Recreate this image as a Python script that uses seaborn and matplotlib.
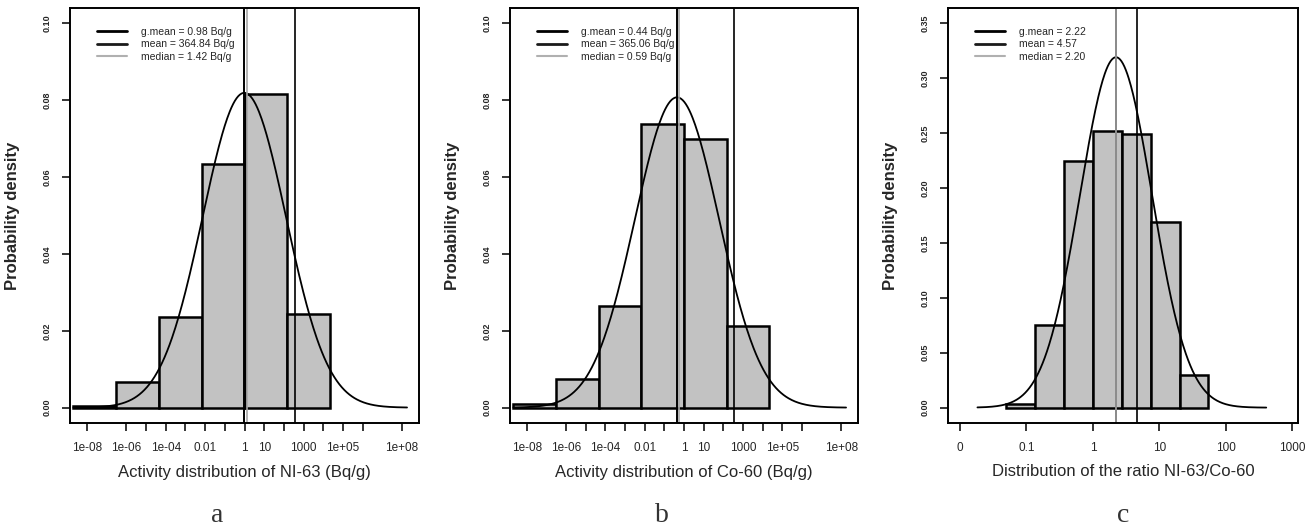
import numpy as np
import matplotlib
matplotlib.use('Agg')
import matplotlib.pyplot as plt
from matplotlib.lines import Line2D
import seaborn as sns

ni_edges = [-20, -15, -10, -5, 0, 5, 10]
ni_density = [0.0003, 0.0068, 0.0236, 0.0634, 0.0816, 0.0244]
co_edges = [-20, -15, -10, -5, 0, 5, 10]
co_density = [0.0010, 0.0075, 0.0265, 0.0738, 0.0699, 0.0213]
ratio_edges = [-3, -2, -1, 0, 1, 2, 3, 4]
ratio_density = [0.003, 0.075, 0.225, 0.252, 0.249, 0.169, 0.030]

# g.mean, mean, median shown in legends
ni_stats = [0.98, 364.84, 1.42]
co_stats = [0.44, 365.06, 0.59]
ratio_stats = [2.22, 4.57, 2.20]
# sd (ln units) of the fitted normal curves, read from the peak heights
ni_sd = 4.87
co_sd = 4.94
ratio_sd = 1.25

act_ticks = [1e-8, 1e-6, 1e-5, 1e-4, 1e-3, 1e-2, 1e-1, 1, 10, 100, 1e3, 1e4, 1e5, 1e6, 1e8]
act_labels = ['1e-08', '1e-06', '', '1e-04', '', '0.01', '', '1', '10', '', '1000', '', '1e+05', '', '1e+08']
ratio_ticks = [0.01, 0.1, 1, 10, 100, 1000]
ratio_labels = ['0', '0.1', '1', '10', '100', '1000']

sns.set_style('ticks')
plt.rcParams['font.family'] = ['Liberation Sans', 'DejaVu Sans']

fig = plt.figure(figsize=(13.12, 5.29), dpi=100)
W, H = 1312, 529


def panel(left, right, edges, dens, stats, sd, unit, curve_rng, xlim, xticks, xlabels,
          yticks, ylim, xlabel, letter, letter_x):
    ax = fig.add_axes([left / W, (H - 423) / H, (right - left) / W, 415 / H])
    centers = [(a + b) / 2 for a, b in zip(edges[:-1], edges[1:])]
    sns.histplot(x=centers, weights=dens, bins=edges, stat='count', color='#c2c2c2',
                 edgecolor='black', linewidth=1.8, alpha=1, ax=ax)
    gm, mn, md = stats
    mu = np.log(gm)
    xs = np.linspace(curve_rng[0], curve_rng[1], 400)
    ys = np.exp(-(xs - mu) ** 2 / (2 * sd ** 2)) / (sd * np.sqrt(2 * np.pi))
    sns.lineplot(x=xs, y=ys, color='black', linewidth=1.3, ax=ax)
    ax.axvline(np.log(gm), color='black', lw=1.4)
    ax.axvline(np.log(mn), color='black', lw=1.2)
    ax.axvline(np.log(md), color='#a8a8a8', lw=1.2)

    ax.set_xlim(*xlim)
    ax.set_ylim(*ylim)
    ax.set_xticks(np.log(xticks))
    ax.set_xticklabels(xlabels, fontsize=8.5)
    ax.set_yticks(yticks)
    ax.set_yticklabels(['%.2f' % v for v in yticks], fontsize=6.5, fontweight='bold',
                       rotation=90, va='center')
    ax.tick_params(axis='both', direction='out', length=6, width=1.1, color='black')
    ax.tick_params(axis='x', pad=8)
    ax.tick_params(axis='y', pad=7)
    for s in ax.spines.values():
        s.set_visible(True)
        s.set_linewidth(1.4)
        s.set_color('black')
    ax.set_xlabel(xlabel, fontsize=12)
    ax.xaxis.set_label_coords(0.5, -0.100)
    ax.set_ylabel('Probability density', fontsize=12, fontweight='bold')
    ax.yaxis.set_label_coords(-50 / (right - left), 0.5)

    handles = [Line2D([], [], color='black', lw=2.0),
               Line2D([], [], color='#1a1a1a', lw=2.0),
               Line2D([], [], color='#b0b0b0', lw=1.5)]
    labels = ['g.mean = %.2f%s' % (gm, unit), 'mean = %.2f%s' % (mn, unit),
              'median = %.2f%s' % (md, unit)]
    ax.legend(handles, labels, loc='upper left', bbox_to_anchor=(27 / (right - left), 0.955),
              frameon=False, fontsize=7.5, handlelength=2.9, handletextpad=1.3,
              labelspacing=0.25, borderpad=0, borderaxespad=0)
    fig.text(letter_x / W, 1 - 515 / H, letter, family='Liberation Serif', fontsize=20,
             color='#333333', ha='center', va='center')
    return ax


act_yticks = [0.00, 0.02, 0.04, 0.06, 0.08, 0.10]
ratio_yticks = [0.00, 0.05, 0.10, 0.15, 0.20, 0.25, 0.30, 0.35]

panel(70, 419, ni_edges, ni_density, ni_stats, ni_sd, ' Bq/g', (-20, 19), (-20.4, 20.4),
      act_ticks, act_labels, act_yticks, (-0.004, 0.104),
      'Activity distribution of NI-63 (Bq/g)', 'a', 217)
panel(510, 858, co_edges, co_density, co_stats, co_sd, ' Bq/g', (-20, 19), (-20.4, 20.4),
      act_ticks, act_labels, act_yticks, (-0.004, 0.104),
      'Activity distribution of Co-60 (Bq/g)', 'b', 662)
panel(948, 1298, ratio_edges, ratio_density, ratio_stats, ratio_sd, '', (-4, 6), (-5.02, 7.1),
      ratio_ticks, ratio_labels, ratio_yticks, (-0.014, 0.364),
      'Distribution of the ratio NI-63/Co-60', 'c', 1123)

fig.savefig('out.png', dpi=100)
